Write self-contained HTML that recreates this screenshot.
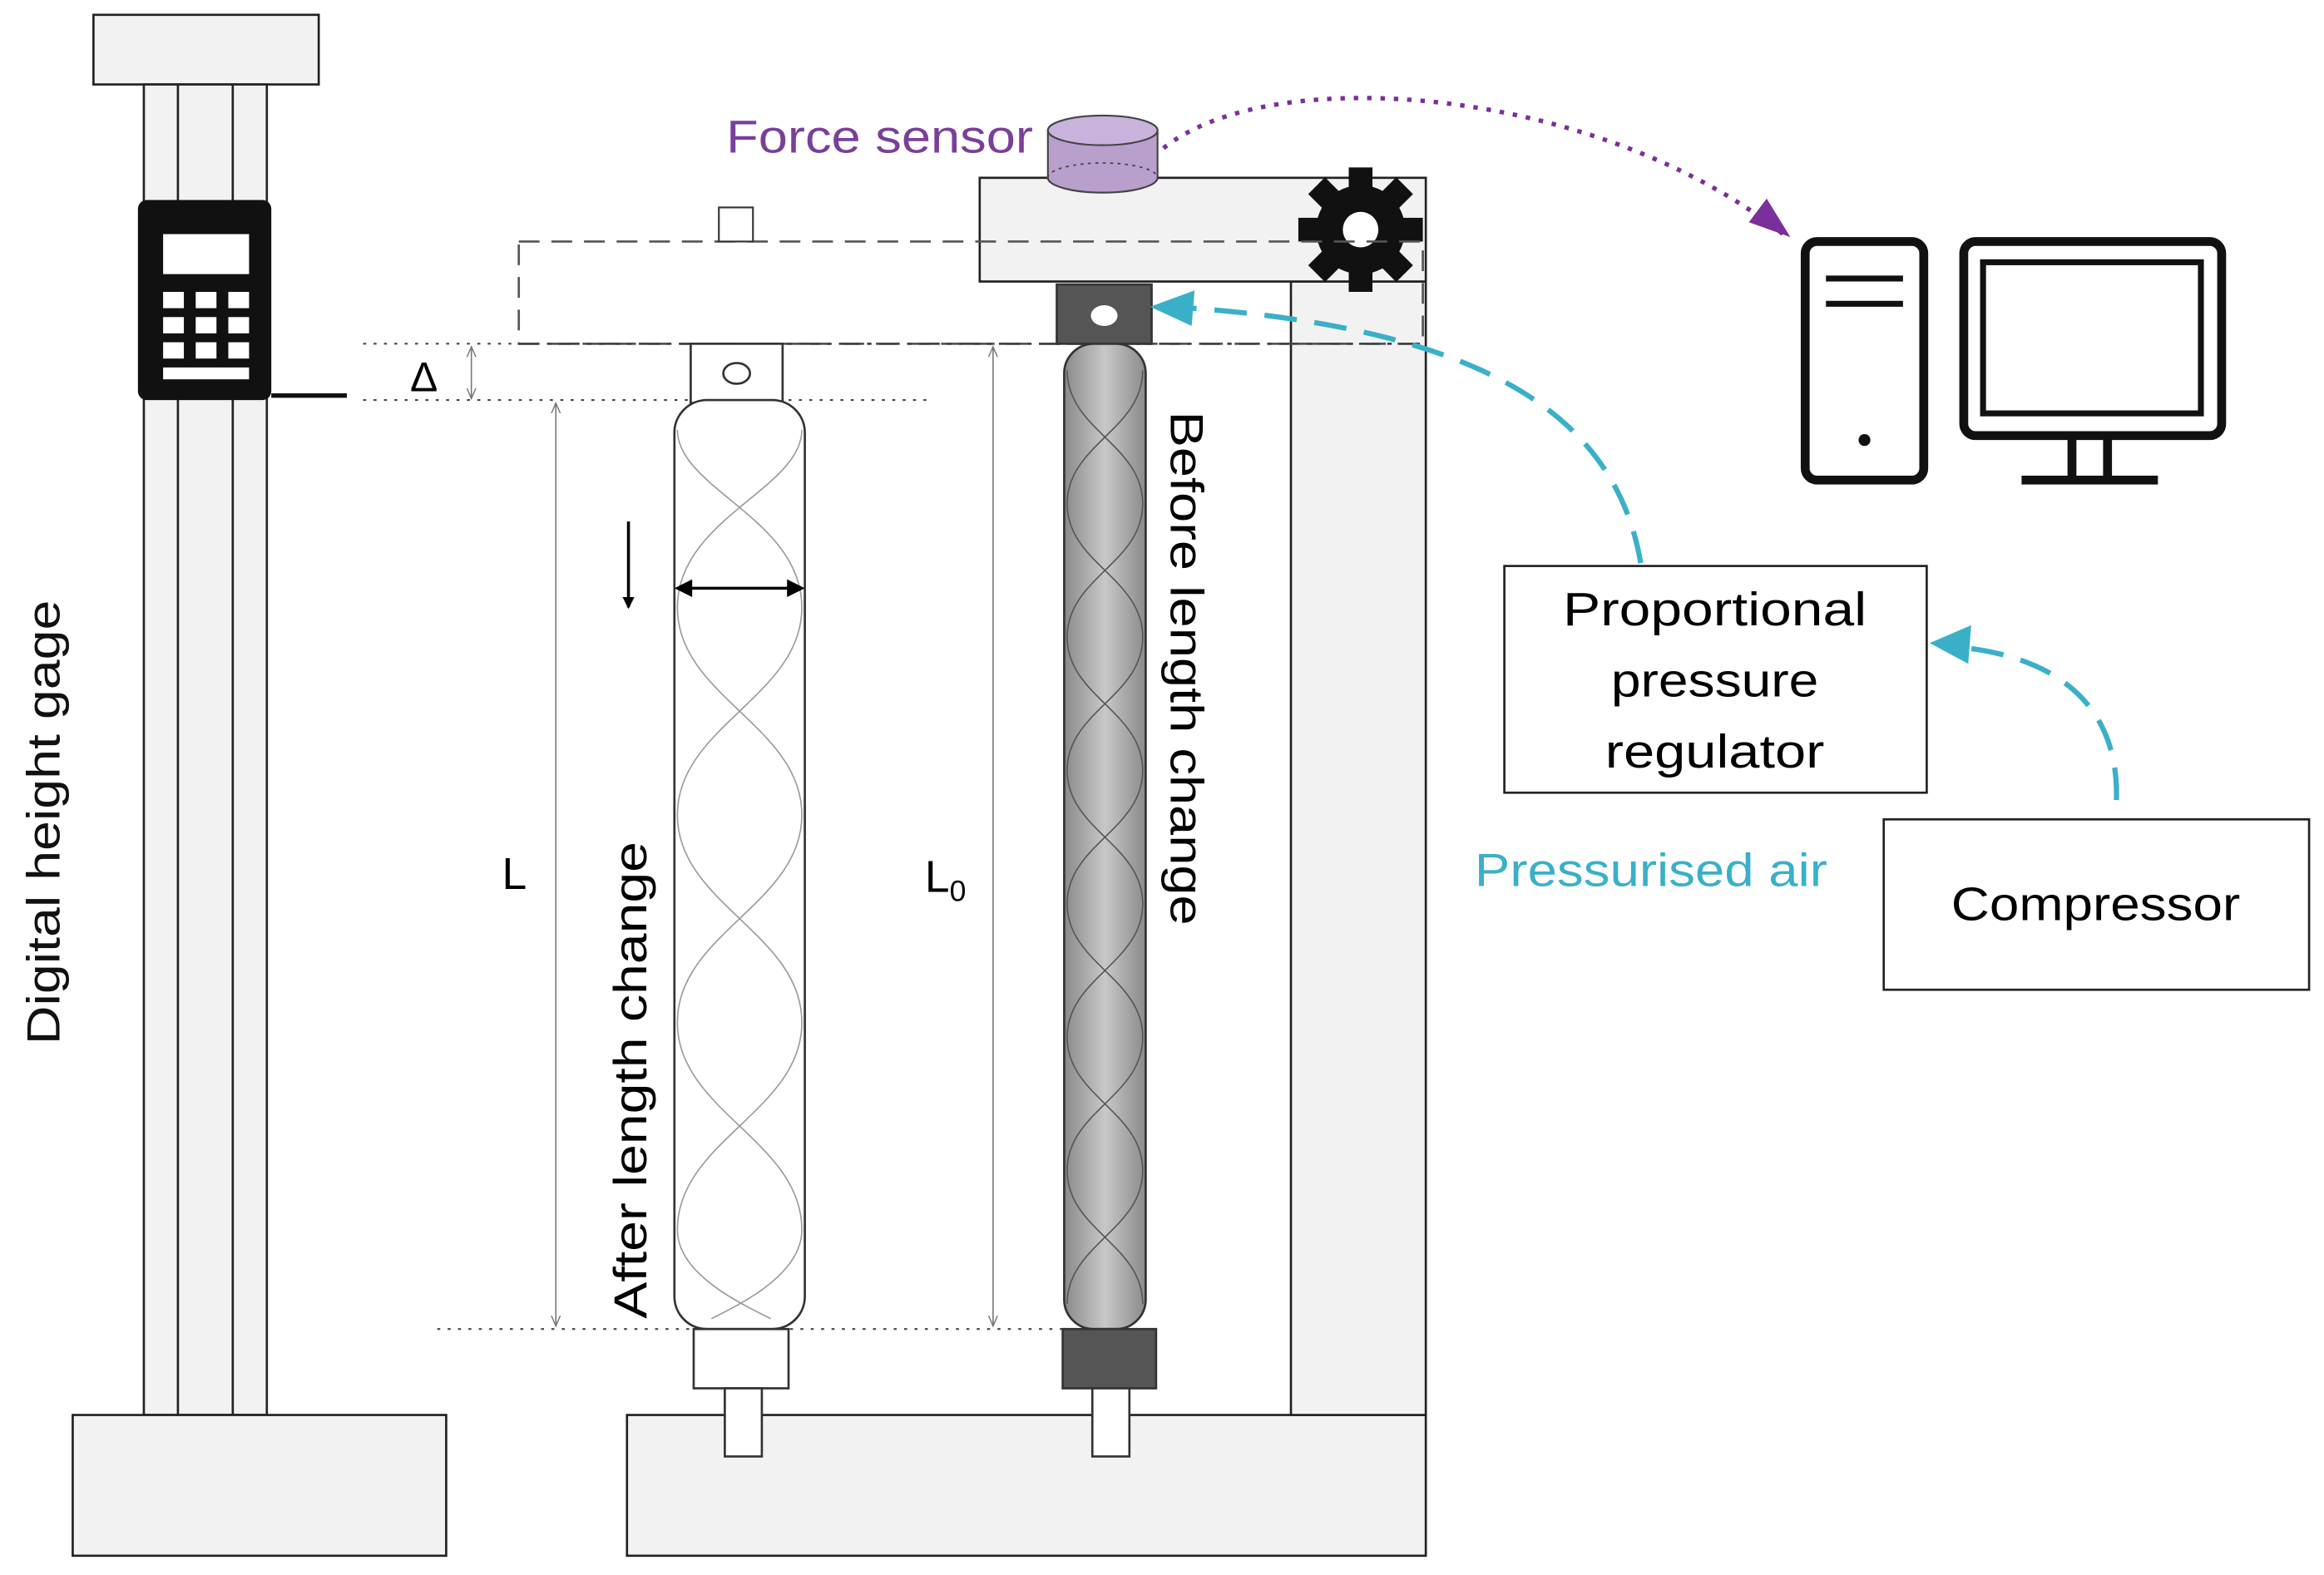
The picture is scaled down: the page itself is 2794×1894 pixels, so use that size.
<!DOCTYPE html>
<html><head><meta charset="utf-8"><style>html,body{margin:0;padding:0;background:#fff}svg{display:block}</style></head>
<body>
<svg width="2794" height="1894" viewBox="0 0 1568 1063" xmlns="http://www.w3.org/2000/svg" font-family="Liberation Sans, sans-serif">
<defs>
<linearGradient id="g" x1="0" x2="1"><stop offset="0" stop-color="#8a8a8a"/><stop offset="0.5" stop-color="#c8c8c8"/><stop offset="1" stop-color="#8a8a8a"/></linearGradient>
<marker id="ak" markerWidth="8" markerHeight="8" refX="7" refY="4" orient="auto" markerUnits="userSpaceOnUse" viewBox="0 0 8 8"><path d="M0,0 L8,4 L0,8 Z" fill="#000"/></marker>
<marker id="at" markerWidth="8" markerHeight="8" refX="7" refY="4" orient="auto-start-reverse" markerUnits="userSpaceOnUse" viewBox="0 0 8 8"><path d="M0,1 L7,4 L0,7" fill="none" stroke="#777" stroke-width="0.8"/></marker>
</defs>
<g stroke="#222" stroke-width="1.5" fill="#f2f2f2">
<rect x="63" y="10" width="152" height="47"/>
<rect x="97" y="57" width="83" height="898"/>
<line x1="120" y1="57" x2="120" y2="955"/><line x1="157" y1="57" x2="157" y2="955"/>
<rect x="49" y="955" width="252" height="95"/>
<rect x="423" y="955" width="539" height="95"/>
<rect x="871" y="190" width="91" height="765"/>
<rect x="661" y="120" width="301" height="70"/>
</g>
<rect x="93" y="135" width="90" height="135" rx="6" fill="#111"/>
<rect x="110" y="158" width="58" height="27" fill="#fff"/>
<g fill="#fff">
<rect x="110" y="197" width="14" height="11"/><rect x="132" y="197" width="14" height="11"/><rect x="154" y="197" width="14" height="11"/>
<rect x="110" y="214" width="14" height="11"/><rect x="132" y="214" width="14" height="11"/><rect x="154" y="214" width="14" height="11"/>
<rect x="110" y="231" width="14" height="11"/><rect x="132" y="231" width="14" height="11"/><rect x="154" y="231" width="14" height="11"/>
<rect x="110" y="248" width="58" height="8"/>
</g>
<line x1="183" y1="267" x2="234" y2="267" stroke="#111" stroke-width="3"/>
<text transform="translate(40,555) rotate(-90)" font-size="31" text-anchor="middle" textLength="300" lengthAdjust="spacingAndGlyphs" fill="#111">Digital height gage</text>
<g transform="translate(918,155)" fill="#111">
<circle r="30"/>
<g id="t"><rect x="-8" y="-42" width="16" height="16"/></g>
<use href="#t" transform="rotate(45)"/><use href="#t" transform="rotate(90)"/><use href="#t" transform="rotate(135)"/><use href="#t" transform="rotate(180)"/><use href="#t" transform="rotate(225)"/><use href="#t" transform="rotate(270)"/><use href="#t" transform="rotate(315)"/>
<circle r="12" fill="#fff"/>
</g>
<rect x="350" y="163" width="610" height="69" fill="none" stroke="#555" stroke-width="1.5" stroke-dasharray="14,8"/>
<rect x="485" y="140" width="23" height="23" fill="#fff" stroke="#333" stroke-width="1.2"/>
<line x1="350" y1="232" x2="960" y2="232" stroke="#444" stroke-width="1.5" stroke-dasharray="14,5,3,5"/>
<g stroke="#444" stroke-width="1.2" stroke-dasharray="2,5">
<line x1="245" y1="232" x2="350" y2="232"/>
<line x1="245" y1="270" x2="630" y2="270"/>
<line x1="295" y1="897" x2="720" y2="897"/>
</g>
<g stroke="#777" stroke-width="0.9" fill="none">
<line x1="318" y1="234" x2="318" y2="269" marker-start="url(#at)" marker-end="url(#at)"/>
<line x1="375" y1="272" x2="375" y2="895" marker-start="url(#at)" marker-end="url(#at)"/>
<line x1="670" y1="234" x2="670" y2="895" marker-start="url(#at)" marker-end="url(#at)"/>
</g>
<text x="286" y="264" font-size="28" text-anchor="middle">Δ</text>
<text x="347" y="600" font-size="30" text-anchor="middle">L</text>
<text x="624" y="602" font-size="30">L<tspan font-size="20" dy="6">0</tspan></text>
<rect x="466" y="232" width="62" height="40" fill="#fff" stroke="#333" stroke-width="1.5"/>
<ellipse cx="497" cy="252" rx="9" ry="7" fill="#fff" stroke="#333" stroke-width="1.5"/>
<rect x="455" y="270" width="88" height="627" rx="22" fill="#fff" stroke="#333" stroke-width="1.5"/>
<g fill="none" stroke="#999" stroke-width="0.9">
<path d="M457,290 C457,330 541,350 541,410 C541,470 457,490 457,550 C457,610 541,630 541,690 C541,750 457,770 457,830 C457,860 500,880 520,890"/>
<path d="M541,290 C541,330 457,350 457,410 C457,470 541,490 541,550 C541,610 457,630 457,690 C457,750 541,770 541,830 C541,860 500,880 480,890"/>
</g>
<rect x="468" y="897" width="64" height="40" fill="#fff" stroke="#333" stroke-width="1.5"/>
<rect x="489" y="937" width="25" height="46" fill="#fff" stroke="#333" stroke-width="1.5"/>
<line x1="424" y1="352" x2="424" y2="410" stroke="#000" stroke-width="2" marker-end="url(#ak)"/>
<line x1="462" y1="397" x2="536" y2="397" stroke="#000" stroke-width="2"/>
<polygon points="455,397 467,391 467,403" fill="#000"/><polygon points="543,397 531,391 531,403" fill="#000"/>
<text transform="translate(436,729) rotate(-90)" font-size="31" text-anchor="middle" textLength="322" lengthAdjust="spacingAndGlyphs">After length change</text>
<rect x="713" y="192" width="64" height="40" fill="#555" stroke="#333" stroke-width="1.5"/>
<ellipse cx="745" cy="213" rx="9" ry="7" fill="#fff"/>
<rect x="718" y="232" width="55" height="665" rx="20" fill="url(#g)" stroke="#333" stroke-width="1.5"/>
<g fill="none" stroke="#555" stroke-width="0.9">
<path d="M720,250 C720,290 771,300 771,340 C771,380 720,390 720,430 C720,470 771,480 771,520 C771,560 720,570 720,610 C720,650 771,660 771,700 C771,740 720,750 720,790 C720,830 771,840 771,880"/>
<path d="M771,250 C771,290 720,300 720,340 C720,380 771,390 771,430 C771,470 720,480 720,520 C720,560 771,570 771,610 C771,650 720,660 720,700 C720,740 771,750 771,790 C771,830 720,840 720,880"/>
</g>
<rect x="717" y="897" width="63" height="40" fill="#555" stroke="#333" stroke-width="1.5"/>
<rect x="737" y="937" width="25" height="46" fill="#fff" stroke="#333" stroke-width="1.5"/>
<text transform="translate(790,451) rotate(90)" font-size="31" text-anchor="middle" textLength="347" lengthAdjust="spacingAndGlyphs">Before length change</text>
<path d="M707,88 L707,120 A37,10 0 0 0 781,120 L781,88 Z" fill="#b89fcc" stroke="#444" stroke-width="1.2"/>
<ellipse cx="744" cy="88" rx="37" ry="10" fill="#c9b3dc" stroke="#444" stroke-width="1.2"/>
<path d="M707,120 A37,10 0 0 1 781,120" fill="none" stroke="#444" stroke-width="1" stroke-dasharray="2,3"/>
<text x="490" y="103" font-size="31" fill="#7a3f9a" textLength="207" lengthAdjust="spacingAndGlyphs">Force sensor</text>
<path d="M785,100 C860,40 1080,60 1203,158" fill="none" stroke="#7a2f9a" stroke-width="3" stroke-dasharray="3,6"/>
<polygon points="1208,160 1180,150 1192,134" fill="#7a2f9a"/>
<g fill="none" stroke="#111" stroke-width="6">
<rect x="1218" y="163" width="80" height="161" rx="8"/>
<line x1="1232" y1="188" x2="1284" y2="188" stroke-width="4"/><line x1="1232" y1="205" x2="1284" y2="205" stroke-width="4"/>
<rect x="1325" y="163" width="174" height="131" rx="8"/>
<rect x="1338" y="177" width="147" height="102" stroke-width="4"/>
<line x1="1398" y1="294" x2="1398" y2="322"/><line x1="1422" y1="294" x2="1422" y2="322"/>
<line x1="1364" y1="324" x2="1456" y2="324"/>
</g>
<circle cx="1258" cy="297" r="4" fill="#111"/>
<rect x="1015" y="382" width="285" height="153" fill="#fff" stroke="#222" stroke-width="1.5"/>
<text x="1157" y="422" font-size="32" text-anchor="middle" textLength="205" lengthAdjust="spacingAndGlyphs">Proportional</text>
<text x="1157" y="470" font-size="32" text-anchor="middle" textLength="140" lengthAdjust="spacingAndGlyphs">pressure</text>
<text x="1157" y="518" font-size="32" text-anchor="middle" textLength="148" lengthAdjust="spacingAndGlyphs">regulator</text>
<rect x="1271" y="553" width="287" height="115" fill="#fff" stroke="#222" stroke-width="1.5"/>
<text x="1414" y="621" font-size="32" text-anchor="middle" textLength="195" lengthAdjust="spacingAndGlyphs">Compressor</text>
<text x="995" y="598" font-size="31" fill="#3ab0c8" textLength="238" lengthAdjust="spacingAndGlyphs">Pressurised air</text>
<g fill="none" stroke="#3ab0c8" stroke-width="3.5" stroke-dasharray="22,12">
<path d="M1107,380 C1090,280 1000,220 790,207"/>
<path d="M1428,540 C1430,470 1380,440 1312,436"/>
</g>
<polygon points="776,207 806,196 804,220" fill="#3ab0c8"/>
<polygon points="1302,434 1330,422 1328,448" fill="#3ab0c8"/>
</svg>
</body></html>
